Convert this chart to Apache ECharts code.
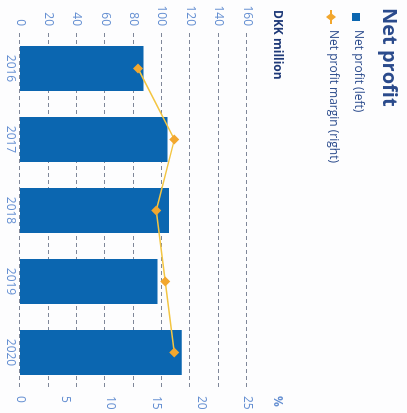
<!DOCTYPE html>
<html><head><meta charset="utf-8">
<script src="https://cdn.jsdelivr.net/npm/echarts@6/dist/echarts.min.js"></script>
<style>
html,body{margin:0;padding:0;overflow:hidden;background:#fdfdfe;width:407px;height:413px;}
#chart{position:absolute;left:0;top:0;width:413px;height:407px;transform-origin:0 0;transform:translateX(407px) rotate(90deg);}
</style></head><body><div id="chart"></div>
<script>
const years = ['2016', '2017', '2018', '2019', '2020'];
const netProfit = [87, 104, 105, 97, 114];
const netMargin = [13, 17, 15, 16, 17];
const leftAxisTicks = [0, 20, 40, 60, 80, 100, 120, 140, 160];
const rightAxisTicks = [0, 5, 10, 15, 20, 25];
const seriesNames = ['Net profit (left)', 'Net profit margin (right)'];

const navy = '#2b4b8c';
const tickColor = '#6690d2';
const chart = echarts.init(document.getElementById('chart'));
chart.setOption({
  backgroundColor: '#fdfdfe',
  animation: false,
  grid: { left: 33, right: 25, top: 160, bottom: 20 },
  xAxis: {
    type: 'category', data: years,
    axisLine: { show: false }, axisTick: { show: false },
    axisLabel: { color: tickColor, fontSize: 12, margin: 4, fontFamily: 'Open Sans' }
  },
  yAxis: [{
    type: 'value', min: leftAxisTicks[0], max: leftAxisTicks[leftAxisTicks.length - 1],
    interval: leftAxisTicks[1] - leftAxisTicks[0],
    axisLine: { show: false }, axisTick: { show: false },
    axisLabel: { color: tickColor, fontSize: 12, margin: 7, fontFamily: 'Open Sans' },
    splitLine: { show: true, lineStyle: { color: '#7f8799', type: [4, 3], width: 1 } }
  }, {
    type: 'value', position: 'right', min: rightAxisTicks[0], max: rightAxisTicks[rightAxisTicks.length - 1],
    interval: rightAxisTicks[1] - rightAxisTicks[0],
    axisLine: { show: false }, axisTick: { show: false },
    axisLabel: { color: tickColor, fontSize: 12, margin: 8, fontFamily: 'Open Sans' },
    splitLine: { show: false }
  }],
  series: [{
    name: seriesNames[0], type: 'bar', data: netProfit, yAxisIndex: 0,
    barWidth: 45, itemStyle: { color: '#0b66b0' }
  }, {
    name: seriesNames[1], type: 'line', data: netMargin, yAxisIndex: 1,
    symbol: 'diamond', symbolSize: 10,
    itemStyle: { color: '#f2a72e' },
    lineStyle: { color: '#f3c542', width: 1.5 }
  }],
  graphic: [
    { type: 'text', left: 8, top: 8, style: { text: 'Net profit', fill: navy, font: 'bold 20px "Open Sans"' } },
    { type: 'rect', shape: { x: 13, y: 47, width: 8, height: 8 }, style: { fill: '#0b66b0' } },
    { type: 'text', left: 30, top: 43, style: { text: seriesNames[0], fill: navy, font: '12px "Open Sans"' } },
    { type: 'line', shape: { x1: 10, y1: 76, x2: 24, y2: 76 }, style: { stroke: '#f2a72e', lineWidth: 2 } },
    { type: 'polygon', shape: { points: [[17, 71], [21, 76], [17, 81], [13, 76]] }, style: { fill: '#f2a72e' } },
    { type: 'text', left: 30, top: 68, style: { text: seriesNames[1], fill: navy, font: '12px "Open Sans"' } },
    { type: 'text', left: 10, top: 124, style: { text: 'DKK million', fill: '#1f3a78', font: 'bold 12px "Open Sans"' } },
    { type: 'text', left: 396, top: 124, style: { text: '%', fill: tickColor, font: 'bold 12px "Open Sans"' } }
  ]
});
</script></body></html>
